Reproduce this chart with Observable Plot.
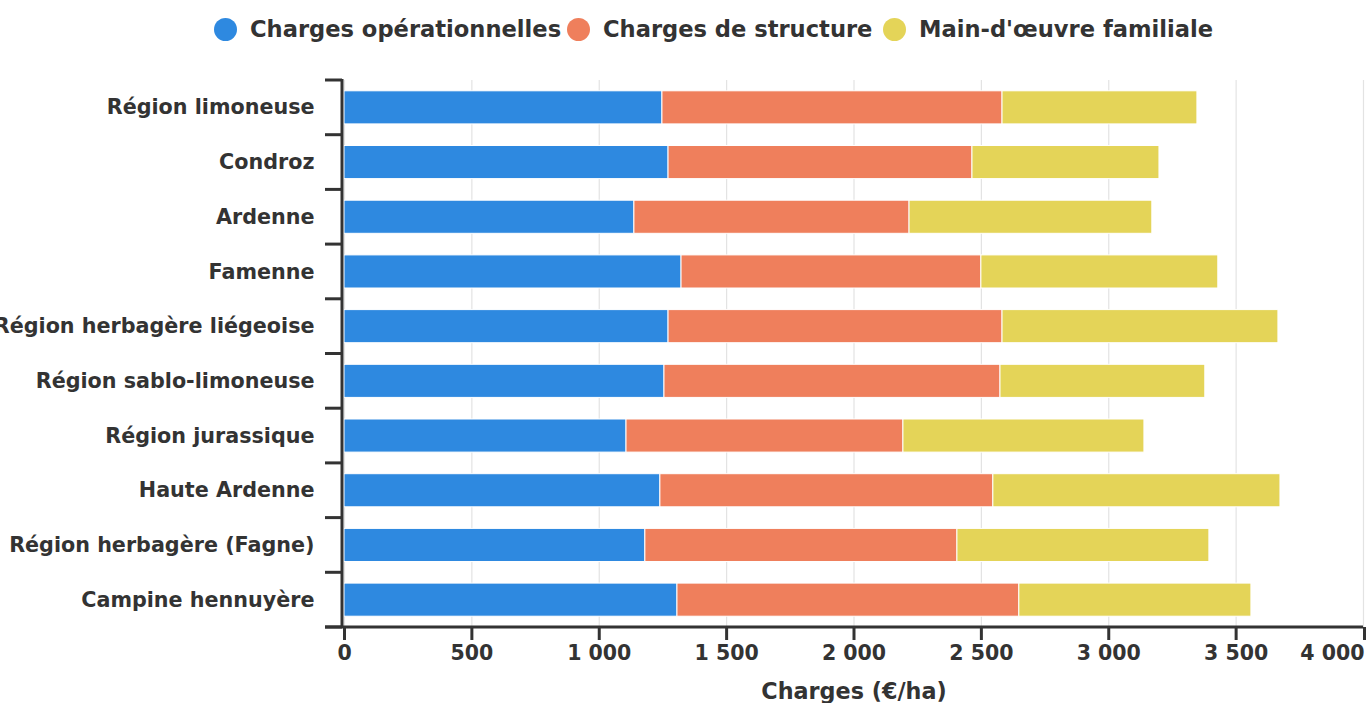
<!DOCTYPE html>
<html>
<head>
<meta charset="utf-8">
<script src="https://cdn.jsdelivr.net/npm/d3@7"></script>
<script src="https://cdn.jsdelivr.net/npm/@observablehq/plot@0.6"></script>
<style>
  body { margin: 0; background: #fff; font-family: "DejaVu Sans", sans-serif; }
  #legend { position: relative; height: 56px; }
  .item { position: absolute; top: 16px; display: flex; align-items: center; font-weight: bold; font-size: 22.6px; color: #333; white-space: nowrap; }
  .dot { width: 23px; height: 23px; border-radius: 50%; margin-right: 13px; }
  #chart svg { display: block; }
</style>
</head>
<body>
<div id="legend"></div>
<div id="chart"></div>
<script>
const regions = ["Région limoneuse", "Condroz", "Ardenne", "Famenne", "Région herbagère liégeoise", "Région sablo-limoneuse", "Région jurassique", "Haute Ardenne", "Région herbagère (Fagne)", "Campine hennuyère"];
const seriesNames = ["Charges opérationnelles", "Charges de structure", "Main-d'œuvre familiale"];
const chargesOperationnelles = [1248, 1272, 1138, 1323, 1272, 1256, 1107, 1240, 1181, 1307];
const chargesStructure = [1335, 1193, 1080, 1177, 1311, 1319, 1087, 1307, 1225, 1342];
const mainOeuvre = [765, 734, 953, 930, 1083, 804, 946, 1127, 989, 911];
const xTicks = [0, 500, 1000, 1500, 2000, 2500, 3000, 3500, 4000];
const colors = ["#2e89e0", "#ef7f5c", "#e4d458"];
const xLabel = "Charges (€/ha)";

const seriesValues = [chargesOperationnelles, chargesStructure, mainOeuvre];
const data = [];
regions.forEach((r, i) => seriesNames.forEach((s, j) => data.push({region: r, series: s, value: seriesValues[j][i]})));

// legend
const legendPos = [214, 567, 883];
const legend = document.getElementById("legend");
seriesNames.forEach((s, j) => {
  const it = document.createElement("div");
  it.className = "item";
  it.style.left = legendPos[j] + "px";
  it.innerHTML = `<span class="dot" style="background:${colors[j]}"></span><span>${s}</span>`;
  legend.appendChild(it);
});

const fr = d3.formatLocale({decimal: ",", thousands: "\u00a0", grouping: [3], currency: ["", " €"]});
const fmt = fr.format(",");

const W = 1366, H = 647, mL = 344, mR = 3, mT = 24, mB = 76;
const axisStyle = {tickSize: 13, tickPadding: 5, strokeWidth: 3, stroke: "#333", fontSize: 20.5, fontWeight: "bold", fill: "#333", tickFormat: fmt, label: null};
const chart = Plot.plot({
  width: W, height: H,
  marginLeft: mL, marginRight: mR, marginTop: mT, marginBottom: mB,
  style: {fontFamily: "DejaVu Sans", color: "#333", background: "#fff", overflow: "visible"},
  x: {domain: [0, 4000], ticks: xTicks},
  y: {domain: regions, padding: 0, round: false},
  color: {domain: seriesNames, range: colors},
  marks: [
    Plot.gridX(xTicks, {stroke: "#e3e3e3", strokeOpacity: 1, strokeWidth: 1.2}),
    Plot.barX(data, {y: "region", x: "value", fill: "series", order: seriesNames, stroke: "#fff", strokeWidth: 1, insetTop: 10.8, insetBottom: 10.8}),
    Plot.axisX(xTicks.slice(0, -1), axisStyle),
    Plot.axisX(xTicks.slice(-1), {...axisStyle, textAnchor: "end", dx: 1}),
    Plot.axisY({tickSize: 0, tickPadding: 30, fontSize: 20.7, fontWeight: "bold", fill: "#333", label: null}),
    Plot.text([xLabel], {frameAnchor: "bottom", dy: 64, lineAnchor: "middle", fontSize: 22.3, fontWeight: "bold", fill: "#333"})
  ]
});
document.getElementById("chart").appendChild(chart);

// axis lines & band-boundary ticks, positioned from the plot's scales
const ys = chart.scale("y"), xs = chart.scale("x");
const svg = d3.select(chart);
const g = svg.append("g").attr("stroke", "#333").attr("stroke-width", 3).attr("fill", "none");
const bounds = regions.map(r => ys.apply(r)).concat([ys.apply(regions[regions.length - 1]) + ys.step]);
const yTop = bounds[0], yBot = bounds[bounds.length - 1];
const x0 = xs.apply(0) - 2;
g.append("line").attr("x1", x0).attr("x2", x0).attr("y1", yTop - 1).attr("y2", yBot);
bounds.forEach(b => g.append("line").attr("x1", x0 - 17).attr("x2", x0).attr("y1", b).attr("y2", b));
g.append("line").attr("x1", x0 - 17).attr("x2", xs.apply(4000)).attr("y1", yBot).attr("y2", yBot);
</script>
</body>
</html>
